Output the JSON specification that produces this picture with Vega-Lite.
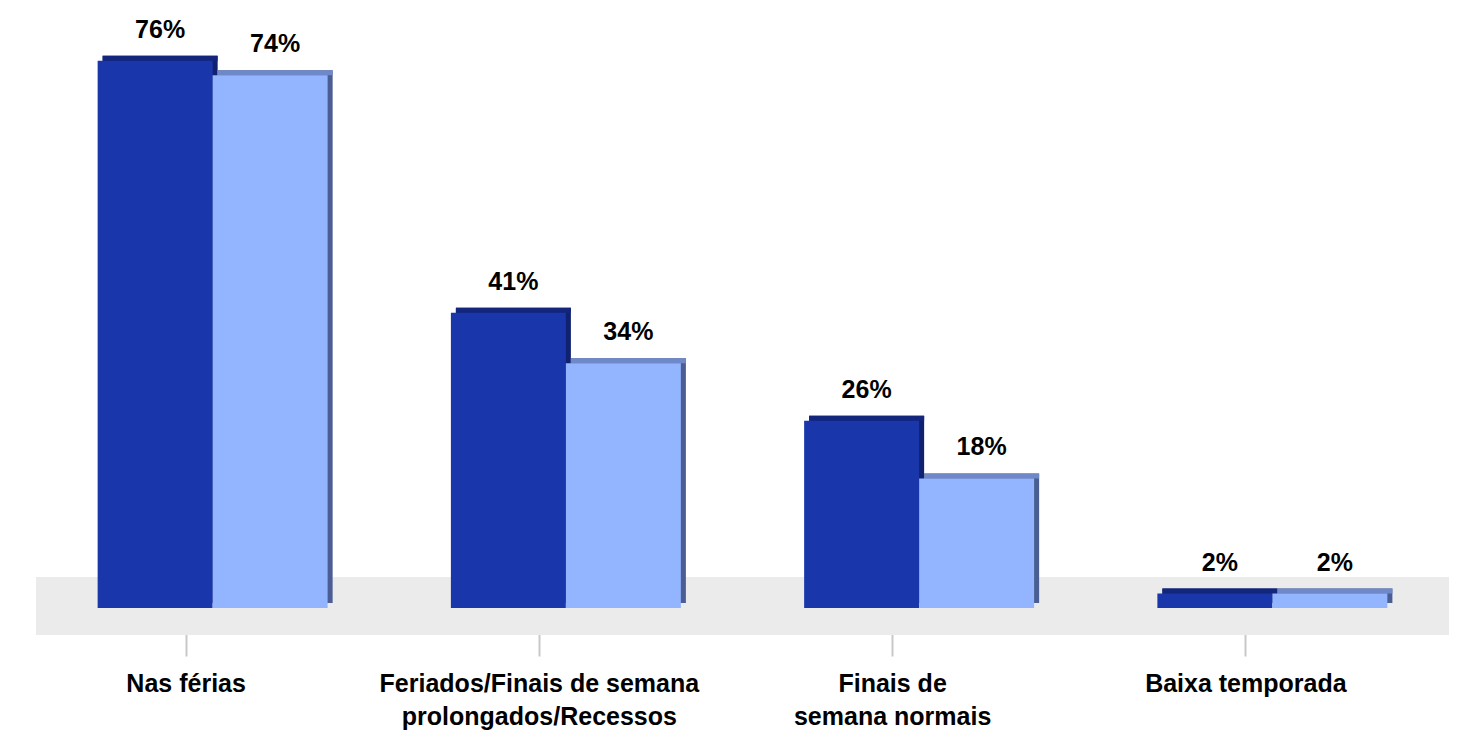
{
  "$schema": "https://vega.github.io/schema/vega-lite/v6.json",
  "width": 1413,
  "height": 576,
  "autosize": {"type": "none"},
  "padding": {"left": 36, "top": 32, "right": 23, "bottom": 131},
  "background": "white",
  "config": {"view": {"stroke": null}, "font": "Liberation Sans"},
  "datasets": {
    "pesquisa": [
      {"categoria": "Nas férias", "serie": "A", "valor": 76},
      {"categoria": "Nas férias", "serie": "B", "valor": 74},
      {"categoria": "Feriados/Finais de semana prolongados/Recessos", "serie": "A", "valor": 41},
      {"categoria": "Feriados/Finais de semana prolongados/Recessos", "serie": "B", "valor": 34},
      {"categoria": "Finais de semana normais", "serie": "A", "valor": 26},
      {"categoria": "Finais de semana normais", "serie": "B", "valor": 18},
      {"categoria": "Baixa temporada", "serie": "A", "valor": 2},
      {"categoria": "Baixa temporada", "serie": "B", "valor": 2}
    ]
  },
  "data": {"name": "pesquisa"},
  "resolve": {"scale": {"xOffset": "independent"}},
  "layer": [
    {
      "data": {"values": [{"piso": "chao"}]},
      "mark": {"type": "rect", "color": "#ebebeb"},
      "encoding": {
        "y": {"datum": -3.75, "type": "quantitative", "scale": {"domain": [0, 80], "nice": false}, "axis": null},
        "y2": {"datum": 4.3}
      }
    },
    {
      "mark": {"type": "bar", "yOffset": -5, "y2Offset": -5},
      "encoding": {
        "x": {"field": "categoria", "type": "nominal", "sort": null,
          "scale": {"paddingInner": 0.349, "paddingOuter": 0.1745},
          "axis": {
            "title": null, "domain": false, "ticks": true, "tickColor": "#c8c8c8", "tickWidth": 2, "tickSize": 22,
            "tickOffset": -27, "offset": 26, "labelAngle": 0, "labelFont": "Liberation Sans", "labelFontSize": 25,
            "labelFontWeight": "bold", "labelColor": "#000000", "labelBaseline": "top", "labelPadding": 15,
            "labelLineHeight": 33, "labelLimit": 0,
            "labelExpr": "datum.value == 'Feriados/Finais de semana prolongados/Recessos' ? ['Feriados/Finais de semana', 'prolongados/Recessos'] : datum.value == 'Finais de semana normais' ? ['Finais de', 'semana normais'] : datum.value"
          }
        },
        "xOffset": {"field": "serie", "type": "nominal", "scale": {"range": [5, 235], "paddingInner": 0, "paddingOuter": 0}},
        "y": {"field": "valor", "type": "quantitative"},
        "color": {"condition": {"test": "datum.serie == 'A'", "value": "#10226f"}, "value": "#4b5e94"}
      }
    },
    {
      "mark": {"type": "bar", "yOffset": -5, "y2Offset": 0},
      "encoding": {
        "x": {"field": "categoria", "type": "nominal", "sort": null},
        "xOffset": {"field": "serie", "type": "nominal", "scale": {"range": [5, 235], "paddingInner": 0, "paddingOuter": 0}},
        "y": {"field": "valor", "type": "quantitative"},
        "y2": {"field": "valor"},
        "color": {"condition": {"test": "datum.serie == 'A'", "value": "#13267c"}, "value": "#6e88c8"}
      }
    },
    {
      "mark": {"type": "bar"},
      "encoding": {
        "x": {"field": "categoria", "type": "nominal", "sort": null},
        "xOffset": {"field": "serie", "type": "nominal", "scale": {"paddingInner": 0, "paddingOuter": 0}},
        "y": {"field": "valor", "type": "quantitative"},
        "color": {"condition": {"test": "datum.serie == 'A'", "value": "#1936aa"}, "value": "#93b5ff"}
      }
    },
    {
      "mark": {"type": "text", "baseline": "alphabetic", "dy": -23, "dx": 5, "fontSize": 25, "fontWeight": "bold", "font": "Liberation Sans", "color": "#000000", "text": {"expr": "datum.valor + '%'"}},
      "encoding": {
        "x": {"field": "categoria", "type": "nominal", "sort": null},
        "xOffset": {"field": "serie", "type": "nominal", "scale": {"padding": 0.5}},
        "y": {"field": "valor", "type": "quantitative"}
      }
    }
  ]
}
